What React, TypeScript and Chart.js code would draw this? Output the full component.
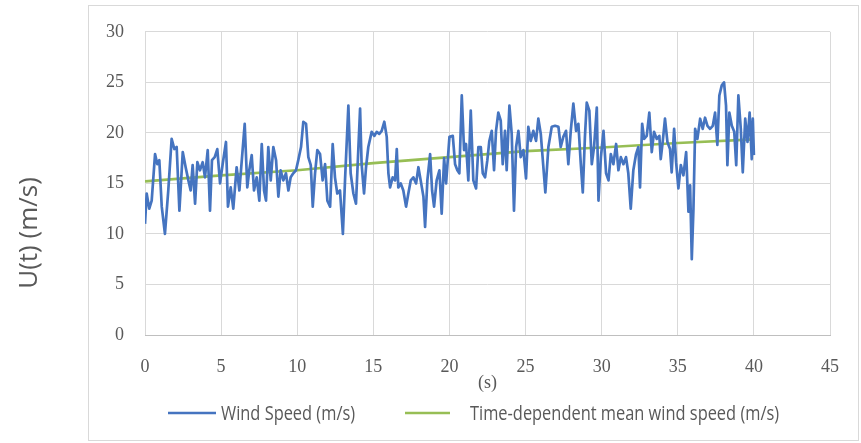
import React, { useEffect, useRef } from "react";
import { Chart, registerables } from "chart.js";

Chart.register(...registerables);

// ---- Data ----
const windTimes = [
  0.0, 0.11, 0.28, 0.44, 0.66, 0.81, 0.94, 1.1, 1.31, 1.53, 1.75, 1.93, 2.08, 2.26, 2.48, 2.67, 2.85, 3.0,
  3.13, 3.29, 3.44, 3.61, 3.79, 3.94, 4.12, 4.27, 4.4, 4.58, 4.75, 4.93, 5.1, 5.32, 5.45, 5.63, 5.8, 6.02,
  6.2, 6.55, 6.72, 6.85, 7.01, 7.16, 7.34, 7.51, 7.67, 7.82, 7.95, 8.1, 8.26, 8.43, 8.61, 8.76, 8.91, 9.09,
  9.26, 9.42, 9.57, 9.74, 9.92, 10.07, 10.25, 10.4, 10.58, 10.73, 10.89, 11.02, 11.17, 11.32, 11.5, 11.67,
  11.83, 11.98, 12.16, 12.33, 12.48, 12.63, 12.81, 13.0, 13.14, 13.36, 13.51, 13.69, 13.86, 14.02, 14.13,
  14.23, 14.39, 14.52, 14.67, 14.89, 15.07, 15.22, 15.39, 15.55, 15.72, 15.88, 15.99, 16.1, 16.27, 16.43,
  16.54, 16.64, 16.8, 16.97, 17.15, 17.3, 17.46, 17.63, 17.81, 17.96, 18.11, 18.29, 18.4, 18.55, 18.73,
  18.86, 18.99, 19.16, 19.34, 19.49, 19.65, 19.78, 20.0, 20.22, 20.37, 20.52, 20.65, 20.81, 20.96, 21.09,
  21.24, 21.4, 21.57, 21.75, 21.9, 22.06, 22.19, 22.34, 22.49, 22.62, 22.78, 22.93, 23.06, 23.21, 23.37,
  23.5, 23.65, 23.76, 23.94, 24.09, 24.24, 24.38, 24.53, 24.68, 24.86, 25.03, 25.18, 25.34, 25.51, 25.69,
  25.84, 26.0, 26.3, 26.5, 26.72, 26.94, 27.16, 27.31, 27.48, 27.66, 27.81, 27.97, 28.14, 28.32, 28.47,
  28.63, 28.76, 28.9, 29.02, 29.19, 29.35, 29.5, 29.68, 29.79, 29.95, 30.12, 30.29, 30.45, 30.6, 30.77,
  30.95, 31.1, 31.26, 31.43, 31.6, 31.75, 31.91, 32.08, 32.26, 32.41, 32.52, 32.66, 32.79, 32.96, 33.13,
  33.29, 33.44, 33.62, 33.79, 33.88, 34.01, 34.16, 34.32, 34.49, 34.6, 34.76, 34.89, 35.04, 35.2, 35.37,
  35.55, 35.7, 35.81, 35.92, 36.03, 36.14, 36.29, 36.47, 36.64, 36.79, 36.95, 37.12, 37.3, 37.45, 37.6,
  37.73, 37.89, 38.04, 38.17, 38.26, 38.39, 38.55, 38.71, 38.84, 38.98, 39.14, 39.27, 39.43, 39.58, 39.72,
  39.86, 39.93, 40.0,
];

const windSpeeds = [
  11.0, 14.0, 12.5, 13.3, 17.9, 16.9, 17.3, 12.7, 10.0, 14.3, 19.4, 18.4, 18.6, 12.3, 18.1, 16.6, 15.3, 14.3,
  16.8, 13.0, 17.1, 16.3, 17.1, 15.6, 18.3, 12.3, 17.3, 17.6, 18.4, 15.0, 16.9, 19.1, 12.7, 14.6, 12.5, 16.6,
  14.3, 20.9, 14.6, 16.3, 17.8, 14.3, 15.6, 13.3, 18.9, 14.3, 13.3, 18.6, 15.3, 18.6, 17.3, 13.7, 16.3, 15.3,
  16.0, 14.3, 15.6, 16.0, 16.3, 17.3, 18.6, 21.1, 20.9, 17.6, 16.8, 12.7, 16.0, 18.3, 17.9, 15.3,
  16.9, 13.3, 12.7, 18.9, 15.6, 14.0, 14.3, 10.0, 15.3, 22.7, 16.0, 14.0, 13.0, 18.6, 22.4,
  16.9, 14.0, 16.6, 18.6, 20.1, 19.7, 20.1, 19.9, 20.2, 21.1, 19.6, 16.0, 14.6, 15.6, 15.3,
  18.4, 14.6, 15.0, 14.3, 12.7, 14.0, 15.3, 15.6, 15.0, 16.6, 15.3, 13.7, 10.7, 15.3, 17.9,
  14.3, 12.7, 15.3, 16.3, 12.0, 17.5, 15.0, 19.6, 19.7, 16.9, 16.3, 16.0, 23.7, 18.3, 18.9,
  15.3, 22.2, 15.3, 14.5, 18.6, 18.6, 16.0, 15.6, 17.3, 19.2, 20.2, 16.3, 20.2, 22.0, 21.2,
  16.9, 20.2, 16.3, 22.7, 19.9, 12.3, 18.6, 20.2, 17.6, 18.3, 15.5, 20.6, 19.2, 20.2, 19.2,
  21.4, 19.9, 14.1, 18.6, 20.6, 20.7, 20.6, 18.6, 19.6, 20.2, 16.9, 20.2, 22.9, 20.2, 20.9,
  16.9, 14.1, 19.6, 23.0, 22.2, 16.9, 18.6, 22.5, 13.3, 17.6, 20.2, 16.0, 15.3, 17.9, 16.9,
  18.9, 16.3, 17.6, 16.9, 17.6, 16.0, 12.5, 16.3, 17.9, 18.6, 14.6, 20.9, 19.4, 19.7, 22.0,
  18.1, 20.1, 19.4, 19.7, 17.4, 19.1, 21.4, 19.1, 18.4, 16.1, 20.4, 17.1, 14.5, 16.8, 15.8,
  18.1, 12.2, 14.8, 7.5, 12.5, 20.4, 19.4, 21.4, 20.4, 21.5, 20.7, 20.4, 20.7, 22.0, 18.8,
  23.7, 24.7, 25.0, 22.7, 16.8, 22.0, 20.7, 20.1, 16.8, 23.7, 20.4, 16.1, 21.4, 19.1, 22.0,
  17.4, 21.4, 17.8,
];

const meanTimes = [0, 5, 10, 15, 20, 25, 30, 35, 40];
const meanSpeeds = [15.2, 15.8, 16.3, 17.0, 17.6, 18.2, 18.55, 19.0, 19.35];

const seriesLabels = ["Wind Speed (m/s)", "Time-dependent mean wind speed (m/s)"];
const seriesColors = ["#4574C0", "#97BE55"];
const xTitle = "(s)";
const yTitle = "U(t) (m/s)";
const xRange = [0, 45];
const yRange = [0, 30];
const tickStep = 5;

const TICK_FONT = { family: "'Liberation Serif', serif", size: 18 };
const TEXT_GRAY = "#595959";

const decorPlugin = {
  id: "decor",
  beforeDraw(chart: any) {
    const ctx = chart.ctx;
    ctx.save();
    ctx.fillStyle = "#ffffff";
    ctx.fillRect(0, 0, chart.width, chart.height);
    ctx.strokeStyle = "#d9d9d9";
    ctx.lineWidth = 1;
    ctx.strokeRect(88.5, 5.5, 770, 435);
    ctx.restore();
  },
  afterDraw(chart: any) {
    const ctx = chart.ctx;
    // y-axis title (outside the chart frame)
    ctx.save();
    ctx.translate(30, 233);
    ctx.rotate(-Math.PI / 2);
    ctx.font = "26px 'Open Sans', sans-serif";
    ctx.fillStyle = TEXT_GRAY;
    ctx.textAlign = "center";
    ctx.textBaseline = "middle";
    ctx.fillText(yTitle, 0, 0);
    ctx.restore();

    // legend
    const items = [
      { x0: 168, x1: 216, tx: 221 },
      { x0: 405, x1: 450, tx: 470 },
    ];
    const ly = 413;
    chart.data.datasets.forEach((ds: any, i: number) => {
      const it = items[i];
      ctx.save();
      ctx.strokeStyle = ds.borderColor;
      ctx.lineWidth = 2.5;
      ctx.beginPath();
      ctx.moveTo(it.x0, ly);
      ctx.lineTo(it.x1, ly);
      ctx.stroke();
      ctx.translate(it.tx, ly + 1);
      ctx.scale(0.82, 1);
      ctx.font = "20px 'Open Sans', sans-serif";
      ctx.fillStyle = TEXT_GRAY;
      ctx.textAlign = "left";
      ctx.textBaseline = "middle";
      ctx.fillText(ds.label, 0, 0);
      ctx.restore();
    });
  },
};

export default function App() {
  const canvasRef = useRef<HTMLCanvasElement | null>(null);

  useEffect(() => {
    const canvas = canvasRef.current;
    if (!canvas) return;
    const windData = windTimes.map((t, i) => ({ x: t, y: windSpeeds[i] }));
    const meanData = meanTimes.map((t, i) => ({ x: t, y: meanSpeeds[i] }));

    const chart = new Chart(canvas, {
      type: "line",
      data: {
        datasets: [
          {
            label: seriesLabels[0],
            data: windData,
            borderColor: seriesColors[0],
            backgroundColor: seriesColors[0],
            borderWidth: 2.7,
            borderJoinStyle: "round",
            pointRadius: 0,
            tension: 0,
            fill: false,
          },
          {
            label: seriesLabels[1],
            data: meanData,
            borderColor: seriesColors[1],
            backgroundColor: seriesColors[1],
            borderWidth: 2.7,
            pointRadius: 0,
            tension: 0,
            fill: false,
          },
        ],
      },
      options: {
        animation: false,
        responsive: false,
        maintainAspectRatio: false,
        events: [],
        layout: { padding: { left: 0, top: 31, right: 31, bottom: 46 } },
        plugins: {
          legend: { display: false },
          tooltip: { enabled: false },
          title: { display: false },
        },
        scales: {
          x: {
            type: "linear",
            min: xRange[0],
            max: xRange[1],
            ticks: {
              stepSize: tickStep,
              padding: 21,
              maxRotation: 0,
              autoSkip: false,
              color: TEXT_GRAY,
              font: TICK_FONT,
            },
            grid: { color: "#d9d9d9", lineWidth: 1, drawTicks: false },
            border: { color: "#bfbfbf", width: 1 },
            title: {
              display: true,
              text: xTitle,
              color: TEXT_GRAY,
              font: TICK_FONT,
              padding: { top: 0, bottom: 3 },
            },
            afterFit: (s: any) => {
              s.height = 62;
            },
          },
          y: {
            type: "linear",
            min: yRange[0],
            max: yRange[1],
            ticks: {
              stepSize: tickStep,
              padding: 21,
              color: TEXT_GRAY,
              font: TICK_FONT,
            },
            grid: { color: "#d9d9d9", lineWidth: 1, drawTicks: false },
            border: { display: false },
            afterFit: (s: any) => {
              s.width = 145;
            },
          },
        },
      },
      plugins: [decorPlugin],
    });
    return () => chart.destroy();
  }, []);

  return (
    <div style={{ position: "fixed", left: 0, top: 0, width: 861, height: 443, background: "#fff" }}>
      <canvas ref={canvasRef} width={861} height={443} style={{ display: "block" }} />
    </div>
  );
}
